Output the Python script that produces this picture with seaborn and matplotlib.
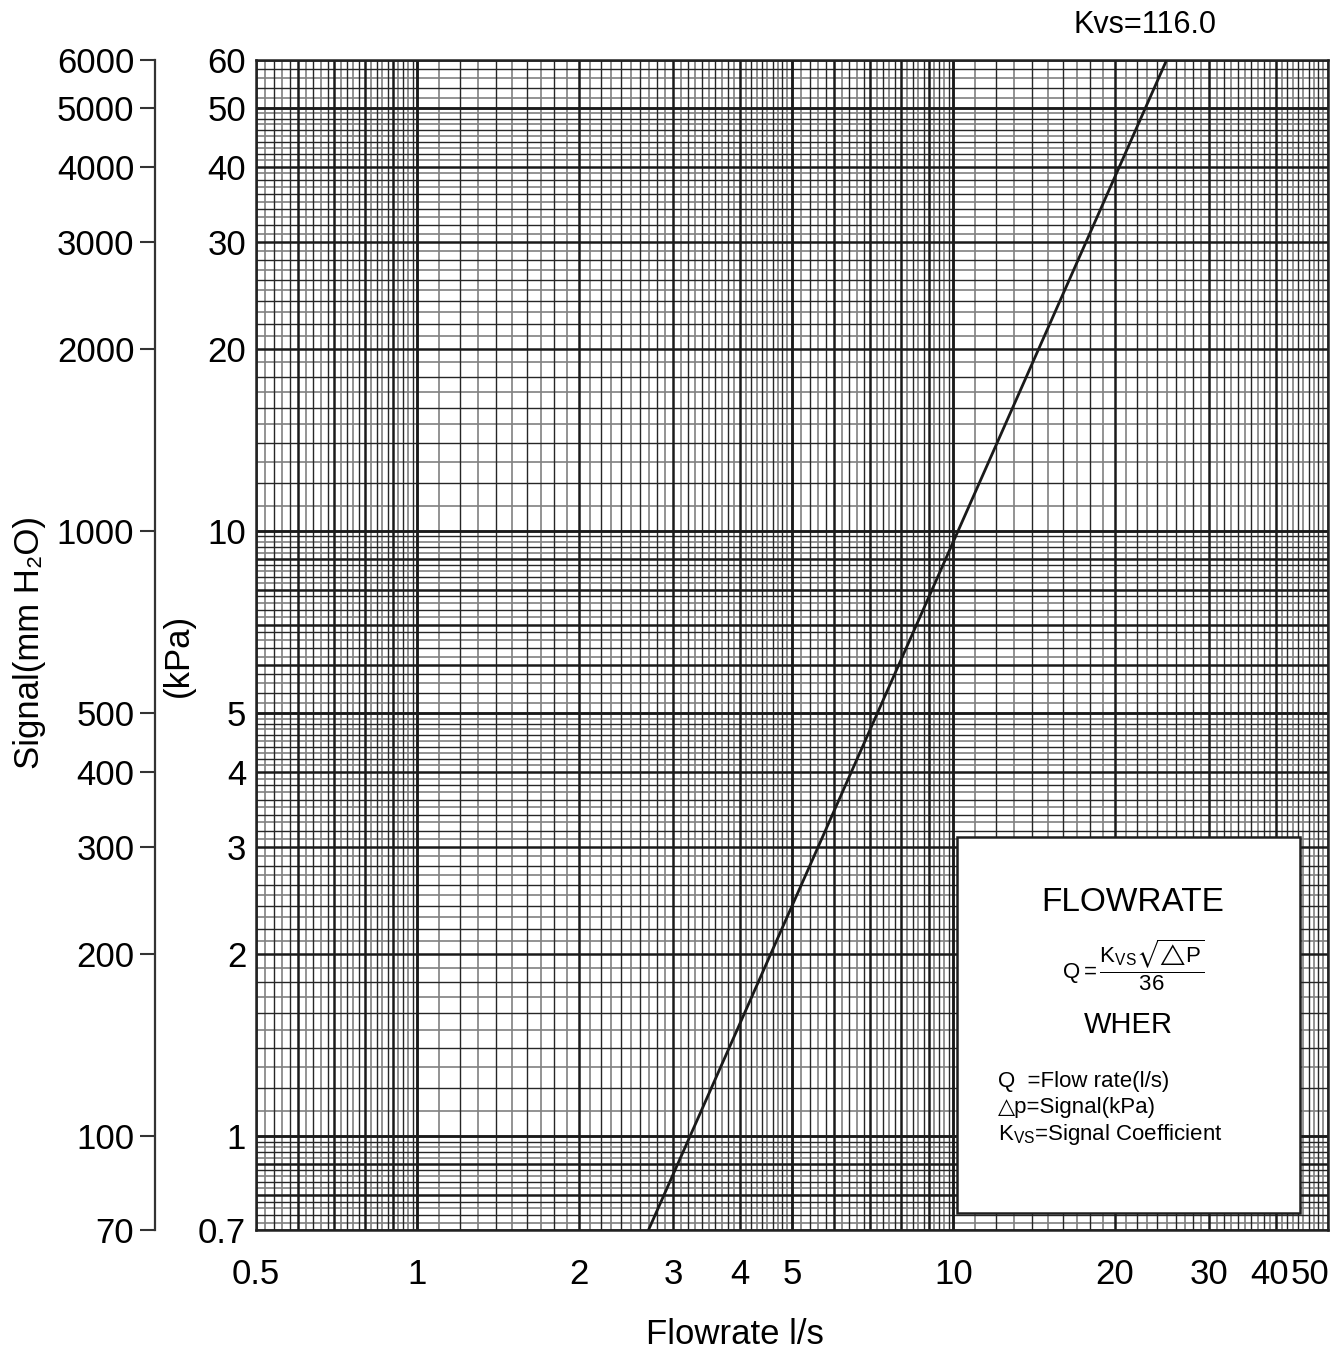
import numpy as np
import matplotlib
matplotlib.use('Agg')
import matplotlib.pyplot as plt
import matplotlib.transforms as mtransforms
import seaborn as sns
from matplotlib.patches import Rectangle

# valve line (Kvs = 116.0)
flow_ls = [2.7, 25.0]
signal_kpa = [0.7, 60.0]

x_ticks = [0.5, 1, 2, 3, 4, 5, 10, 20, 30, 40, 50]
x_labels = ['0.5', '1', '2', '3', '4', '5', '10', '20', '30', '40', '50']
kpa_ticks = [0.7, 1, 2, 3, 4, 5, 10, 20, 30, 40, 50, 60]
kpa_labels = ['0.7', '1', '2', '3', '4', '5', '10', '20', '30', '40', '50', '60']
mm_ticks = [70, 100, 200, 300, 400, 500, 1000, 2000, 3000, 4000, 5000, 6000]

# log paper rulings: (start, stop, heavy step, fine step)
x_rulings = [(0.5, 1, 0.1, 0.02), (1, 5, 1, 0.1), (5, 10, 1, 0.2), (10, 50, 10, 1)]
y_rulings = [(0.7, 1, 0.1, 0.02), (1, 5, 1, 0.1), (5, 10, 1, 0.2), (10, 50, 10, 1),
             (50, 60, 10, 2)]

sns.set_style('white')
plt.rcParams['font.family'] = ['Liberation Sans', 'DejaVu Sans']
plt.rcParams['text.color'] = 'black'
plt.rcParams['axes.labelcolor'] = 'black'
plt.rcParams['mathtext.fontset'] = 'custom'
plt.rcParams['mathtext.rm'] = 'Liberation Sans'
plt.rcParams['mathtext.it'] = 'Liberation Sans:italic'
plt.rcParams['mathtext.fallback'] = 'stixsans'

fig = plt.figure(figsize=(13.4, 13.54), dpi=100)
ax = fig.add_axes([0.191, 0.0916, 0.8, 0.864])
ax.set_xscale('log')
ax.set_yscale('log')
ax.set_xlim(0.5, 50)
ax.set_ylim(0.7, 60)


def ruling_lines(rulings):
    out = []
    for start, stop, heavy, fine in rulings:
        n = int(round((stop - start) / fine))
        per = int(round(heavy / fine))
        for i in range(n + 1):
            v = round(start + i * fine, 6)
            k = int(round(v / fine)) % per
            if k == 0:
                kind = 'heavy'
            elif k % 2 == 1:
                kind = 'grey'
            else:
                kind = 'thin'
            out.append((v, kind))
    return out


styles = {'heavy': dict(color='#1a1a1a', lw=1.8, zorder=1.2),
          'thin': dict(color='#262626', lw=1.0, zorder=1.1),
          'grey': dict(color='#808080', lw=1.2, zorder=1.0)}

for v, kind in ruling_lines(x_rulings):
    ax.axvline(v, **styles[kind])
for v, kind in ruling_lines(y_rulings):
    ax.axhline(v, **styles[kind])

sns.lineplot(x=flow_ls, y=signal_kpa, ax=ax, color='#1a1a1a', lw=2.0, zorder=5)

for s in ax.spines.values():
    s.set_color('#222222')
    s.set_linewidth(1.8)

ax.minorticks_off()
ax.set_xticks(x_ticks)
ax.set_xticklabels(x_labels)
ax.set_yticks(kpa_ticks)
ax.set_yticklabels(kpa_labels)
ax.tick_params(axis='x', length=0, pad=20, labelsize=25, labelcolor='black')
ax.tick_params(axis='y', length=0, pad=7, labelsize=25, labelcolor='black')
# the last two labels sit a little left of their rulings, as on the original sheet
for lab, dx in zip(ax.get_xticklabels()[-2:], [-6, -18]):
    lab.set_transform(lab.get_transform() +
                      mtransforms.ScaledTranslation(dx / 100, 0, fig.dpi_scale_trans))
ax.set_xlabel('')
ax.set_ylabel('')

# mm H2O scale on the far left
sec = ax.secondary_yaxis(-0.094, functions=(lambda y: y * 100, lambda y: y / 100))
sec.set_yscale('log')
sec.minorticks_off()
sec.set_yticks(mm_ticks)
sec.set_yticklabels([str(t) for t in mm_ticks])
sec.tick_params(axis='y', direction='out', length=11, width=1.5, color='#333333',
                pad=4, labelsize=25, labelcolor='black')
sec.spines['left'].set_color('#333333')
sec.spines['left'].set_linewidth(1.6)

# formula box
ax.add_patch(Rectangle((0.654, 0.0145), 0.32, 0.3215, transform=ax.transAxes,
                       facecolor='white', edgecolor='#1e1e1e', lw=1.8, zorder=4))
ax.text(0.818, 0.2795, 'FLOWRATE', transform=ax.transAxes, ha='center', va='center',
        fontsize=24, zorder=6)
ax.text(0.818, 0.2265, r'$\mathrm{Q=}\dfrac{\mathrm{K_{VS}\sqrt{△P}}}{\mathrm{36}}$',
        transform=ax.transAxes, ha='center', va='center', fontsize=16, zorder=6)
ax.text(0.814, 0.175, 'WHER', transform=ax.transAxes, ha='center', va='center',
        fontsize=21, zorder=6)
ax.text(0.692, 0.1265, 'Q  =Flow rate(l/s)', transform=ax.transAxes, ha='left',
        va='center', fontsize=16, zorder=6)
ax.text(0.692, 0.1043, '△p=Signal(kPa)', transform=ax.transAxes, ha='left',
        va='center', fontsize=16, zorder=6)
ax.text(0.692, 0.082, r'K$_{\mathrm{VS}}$=Signal Coefficient', transform=ax.transAxes,
        ha='left', va='center', fontsize=16, zorder=6)

fig.text(1145 / 1340, 1 - 25 / 1354, 'Kvs=116.0', ha='center', va='center', fontsize=22)
fig.text(735 / 1340, 1 - 1335 / 1354, 'Flowrate l/s', ha='center', va='center', fontsize=25)
fig.text(30 / 1340, 1 - 642 / 1354, 'Signal(mm H₂O)', ha='center', va='center',
         rotation=90, fontsize=25)
fig.text(178 / 1340, 1 - 655 / 1354, '(kPa)', ha='center', va='center',
         rotation=90, fontsize=25)

fig.savefig('out.png', dpi=100, facecolor='white')
